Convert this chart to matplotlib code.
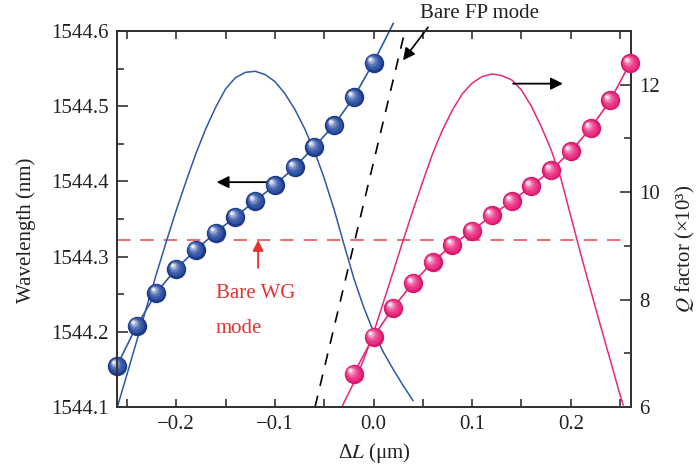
import numpy as np
import matplotlib
matplotlib.use("Agg")
import matplotlib.pyplot as plt
from matplotlib.transforms import offset_copy
from matplotlib.colors import to_rgb

plt.rcParams['font.family'] = ['Liberation Serif', 'DejaVu Serif']
plt.rcParams['mathtext.fontset'] = 'stix'

# ---------------- data ----------------
# blue spheres: wavelength (left axis)
blue_x = [-0.26, -0.24, -0.22, -0.20, -0.18, -0.16, -0.14, -0.12, -0.10, -0.08, -0.06, -0.04, -0.02, 0.0]
blue_wl = [1544.155, 1544.208, 1544.252, 1544.284, 1544.309, 1544.332, 1544.353, 1544.374,
           1544.395, 1544.419, 1544.446, 1544.475, 1544.512, 1544.558]
blue_tail_x = [0.0, 0.02]
blue_tail_wl = [1544.558, 1544.610]

# pink spheres: Q factor (right axis, x10^3)
pink_x = [-0.02, 0.0, 0.02, 0.04, 0.06, 0.08, 0.10, 0.12, 0.14, 0.16, 0.18, 0.20, 0.22, 0.24, 0.26]
pink_q = [6.62, 7.31, 7.85, 8.31, 8.70, 9.02, 9.28, 9.57, 9.83, 10.11, 10.41, 10.76, 11.19, 11.71, 12.40]

# thin blue curve (right-axis units)
bcurve_x = [-0.26, -0.25, -0.24, -0.23, -0.22, -0.21, -0.20, -0.19, -0.18, -0.17, -0.16, -0.15,
            -0.14, -0.13, -0.12, -0.11, -0.10, -0.09, -0.08, -0.07, -0.06, -0.05, -0.04, -0.03,
            -0.02, -0.01, 0.0, 0.01, 0.02, 0.03, 0.04]
bcurve_q = [5.98, 6.60, 7.23, 7.86, 8.48, 9.08, 9.66, 10.20, 10.72, 11.18, 11.58, 11.92,
            12.13, 12.23, 12.25, 12.19, 12.06, 11.84, 11.55, 11.19, 10.77, 10.26, 9.68, 9.03,
            8.40, 7.86, 7.40, 7.02, 6.70, 6.40, 6.12]

# thin pink curve (right-axis units)
pcurve_x = [-0.032, -0.03, -0.02, -0.01, 0.0, 0.01, 0.02, 0.03, 0.04, 0.05, 0.06, 0.07, 0.08,
            0.09, 0.10, 0.11, 0.12, 0.13, 0.14, 0.15, 0.16, 0.17, 0.18, 0.19, 0.20, 0.21, 0.22,
            0.23, 0.24, 0.25, 0.253]
pcurve_q = [6.0, 6.08, 6.45, 6.88, 7.38, 7.95, 8.52, 9.10, 9.66, 10.20, 10.72, 11.16, 11.53,
            11.83, 12.03, 12.15, 12.20, 12.17, 12.09, 11.90, 11.60, 11.22, 10.79, 10.25, 9.55,
            8.85, 8.18, 7.52, 6.87, 6.22, 6.04]

# bare FP mode (dashed black) and bare WG mode (dashed red)
fp_x = [-0.0593, 0.0318]
fp_wl = [1544.1, 1544.6]
wg_wl = 1544.322

xticks = [-0.2, -0.1, 0.0, 0.1, 0.2]
xtick_labels = ['\u22120.2', '\u22120.1', '0.0', '0.1', '0.2']
yticks_left = [1544.1, 1544.2, 1544.3, 1544.4, 1544.5, 1544.6]
ytick_left_labels = ['1544.1', '1544.2', '1544.3', '1544.4', '1544.5', '1544.6']
yticks_right = [6, 8, 10, 12]
ytick_right_labels = ['6', '8', '10', '12']

# ---------------- figure ----------------
fig = plt.figure(figsize=(6.98, 4.67), dpi=100)
ax = fig.add_axes([117/698, 60/467, 514/698, 376/467])
ax2 = ax.twinx()

ax.set_xlim(-0.26, 0.261)
ax.set_ylim(1544.1, 1544.6)
ax2.set_ylim(6, 13)

BLUE = '#2d58ab'
PINK = '#e8287f'
RED = '#ef5252'
RED_TXT = '#e83232'

def blend(c1, c2, t):
    a = np.array(to_rgb(c1)); b = np.array(to_rgb(c2))
    return tuple(a + (b - a) * t)

def balls(axis, x, y, dark, base, light, size, transform, z):
    n = 9
    axis.plot(x, y, 'o', ms=size, color=dark, mec='none', transform=transform,
              zorder=z, clip_on=False)
    for i in range(1, n):
        t = i / (n - 1)
        s = size * (0.92 - 0.80 * t)
        d = size * 0.20 * t
        col = blend(base, light, t ** 2.2)
        tr = offset_copy(transform, fig=fig, x=-d, y=d, units='points')
        axis.plot(x, y, 'o', ms=s, color=col, mec='none', transform=tr,
                  zorder=z + 0.01 * i, clip_on=False)

# red dashed WG line
ax.axhline(wg_wl, color=RED, lw=1.2, ls=(0, (8, 6)), zorder=1)
# black dashed FP line
ax.plot(fp_x, fp_wl, color='black', lw=1.2, ls=(0, (7, 6)), zorder=1, clip_on=False)

# thin blue curve (Q values drawn via the right axis scale)
ax.plot(bcurve_x, bcurve_q, color=BLUE, lw=1.1, zorder=2, transform=ax2.transData)
# blue connecting line + balls
ax.plot(blue_x, blue_wl, color=BLUE, lw=1.2, zorder=2)
ax.plot(blue_tail_x, blue_tail_wl, color=BLUE, lw=1.2, zorder=2, clip_on=False)
balls(ax, blue_x, blue_wl, '#1d3a84', '#2b4fa3', '#ffffff', 14, ax.transData, 4)

# pink curve + line + balls on right axis
ax2.plot(pcurve_x, pcurve_q, color=PINK, lw=1.1, zorder=2)
ax2.plot(pink_x, pink_q, color=PINK, lw=1.2, zorder=2)
balls(ax2, pink_x, pink_q, '#d41c6c', '#ea2a80', '#ffffff', 14, ax2.transData, 4)

# arrows
ax.annotate('', xy=(-0.159, 1544.399), xytext=(-0.103, 1544.399),
            arrowprops=dict(arrowstyle='-|>', color='black', lw=1.3, mutation_scale=18,
                            shrinkA=0, shrinkB=0), zorder=3)
ax2.annotate('', xy=(0.192, 12.02), xytext=(0.1415, 12.02),
             arrowprops=dict(arrowstyle='-|>', color='black', lw=1.3, mutation_scale=18,
                             shrinkA=0, shrinkB=0), zorder=3)
ax.annotate('', xy=(-0.117, 1544.322), xytext=(-0.117, 1544.285),
            arrowprops=dict(arrowstyle='-|>', color=RED_TXT, lw=1.3, mutation_scale=16,
                            shrinkA=0, shrinkB=0), zorder=3)
ax.annotate('', xy=(0.0299, 1544.561), xytext=(0.0553, 1544.605),
            arrowprops=dict(arrowstyle='-|>', color='black', lw=1.2, mutation_scale=18,
                            shrinkA=0, shrinkB=0), zorder=3, annotation_clip=False)

ax.text(-0.160, 1544.245, 'Bare WG', color=RED_TXT, fontsize=15, ha='left', va='baseline')
ax.text(-0.160, 1544.199, 'mode', color=RED_TXT, fontsize=15, ha='left', va='baseline')
ax.text(0.047, 1544.617, 'Bare FP mode', color='#222222', fontsize=15, ha='left',
        va='baseline', clip_on=False)

# ---------------- axes styling ----------------
SPC = '#333333'
for a in (ax, ax2):
    for sp in a.spines.values():
        sp.set_linewidth(1.4)
        sp.set_color(SPC)

ax.set_xticks(xticks)
ax.set_xticklabels(xtick_labels)
ax.set_xticks(np.arange(-0.25, 0.26, 0.05), minor=True)
ax.set_yticks(yticks_left)
ax.set_yticklabels(ytick_left_labels)
ax.set_yticks(np.arange(1544.15, 1544.6, 0.1), minor=True)
ax2.set_yticks(yticks_right)
ax2.set_yticklabels(ytick_right_labels)
ax2.set_yticks([7, 9, 11], minor=True)

ax.tick_params(axis='x', which='both', direction='in', top=True, bottom=True,
               labelsize=15, pad=6, color=SPC, labelcolor='#222222', width=1.2)
ax.tick_params(axis='x', which='major', length=6)
ax.tick_params(axis='x', which='minor', length=6)
ax.tick_params(axis='y', which='both', direction='in', left=True, right=False,
               labelsize=15, pad=6, color=SPC, labelcolor='#222222', width=1.2)
ax.tick_params(axis='y', which='major', length=8)
ax.tick_params(axis='y', which='minor', length=5)
ax2.tick_params(axis='y', which='both', direction='in', right=True, left=False,
                labelsize=15, pad=6, color=SPC, labelcolor='#222222', width=1.2)
ax2.tick_params(axis='y', which='major', length=8)
ax2.tick_params(axis='y', which='minor', length=5)

ax.set_xlabel('\u0394$L$ (\u03bcm)', fontsize=15, color='#222222', labelpad=5)
ax.set_ylabel('Wavelength (nm)', fontsize=15, color='#222222')
ax2.set_ylabel('$Q$ factor (\u00d710\u00b3)', fontsize=15, color='#222222')
ax.yaxis.set_label_coords(-0.158, 0.471)
ax2.yaxis.set_label_coords(1.084, 0.419)

fig.savefig('out.png', dpi=100)
